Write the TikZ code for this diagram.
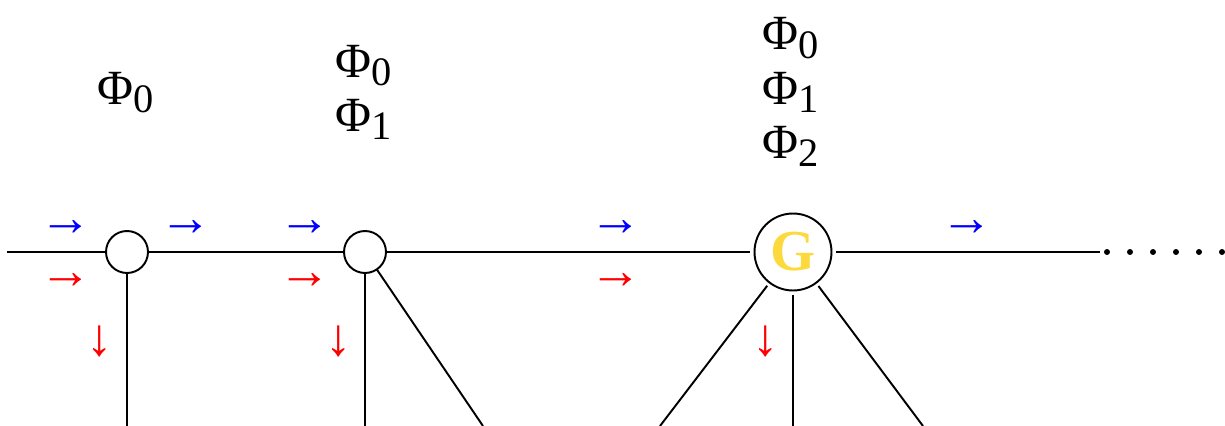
\documentclass[tikz,border=0pt]{standalone}
\usepackage{fontspec}
\setmainfont{Liberation Serif}
\usetikzlibrary{positioning}
\definecolor{gold}{RGB}{252,218,62}
\newcommand{\Phisub}[1]{\fontsize{28}{28}\selectfont Φ\raisebox{-5pt}{\fontsize{23}{23}\selectfont #1}}

\begin{document}
\begin{tikzpicture}[x=0.02cm, y=-0.02cm, line width=1.1pt,
    junction/.style={circle, draw, minimum size=0.84cm, inner sep=0pt, outer sep=0pt},
    gate/.style={junction, minimum size=1.54cm, outer sep=2.3pt},
    flow/.style={font=\fontsize{30}{30}\selectfont, inner sep=0pt},
    phi/.style={anchor=base, inner sep=0pt}]
\useasboundingbox (0,0) rectangle (1225,426);

% Junctions
\node[junction] (c1) at (127,252) {};
\node[junction] (c2) at (365,252) {};
\node[gate] (g) at (793,252) {\fontsize{33}{33}\selectfont\bfseries\color{gold}G};

% Main line
\coordinate (west) at (7,252);
\coordinate (east) at (1100,252);
\draw (west) -- (c1) -- (c2) -- (g) -- (east);
\foreach \x in {0,...,5} {
    \fill (1107+23*\x, 252) circle (3);
}

% Branches
\coordinate (c1s) at (127,426);
\coordinate (c2s) at (365,426);
\coordinate (c2d) at (483,426);
\coordinate (gl) at (660,426);
\coordinate (gs) at (793,426);
\coordinate (gr) at (923,426);
\draw (c1) -- (c1s);
\draw (c2) -- (c2s);
\draw (c2) -- (c2d);
\draw (g) -- (gl);
\draw (g) -- (gs);
\draw (g) -- (gr);

% Flow arrows
\foreach \x/\n in {66/1, 186/2, 305/3, 616/4, 967/5} {
    \node[flow, blue] (b\n) at (\x,228) {→};
}
\foreach \x/\n in {66/1, 305/2, 616/3} {
    \node[flow, red] (r\n) at (\x,281) {→};
}
\foreach \x/\n in {100/1, 339/2, 766/3} {
    \node[flow, red] (d\n) at (\x,341) {↓};
}

% Labels
\node[phi] (phiA0) at (126,104) {\Phisub{0}};
\foreach \i/\y in {0/77, 1/131} {
    \node[phi] (phiB\i) at (364,\y) {\Phisub{\i}};
}
\foreach \i/\y in {0/50, 1/104, 2/158} {
    \node[phi] (phiC\i) at (791,\y) {\Phisub{\i}};
}
\end{tikzpicture}
\end{document}
